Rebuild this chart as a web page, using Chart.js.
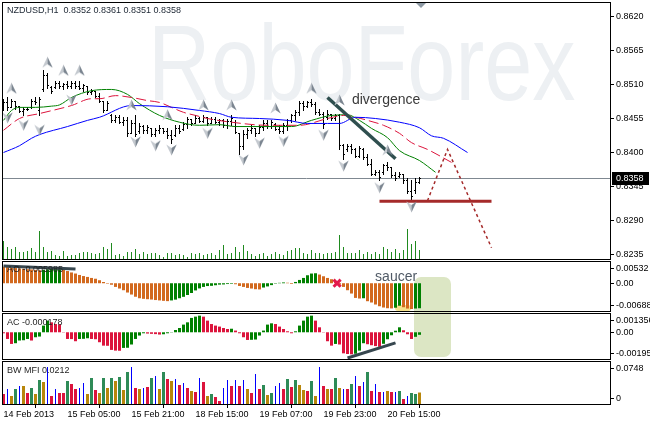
<!DOCTYPE html>
<html>
<head>
<meta charset="utf-8">
<title>NZDUSD H1</title>
<script src="https://cdn.jsdelivr.net/npm/chart.js@4.4.1/dist/chart.umd.min.js"></script>
<style>
  html, body { margin: 0; padding: 0; background: #fff; }
  #wrap { position: relative; width: 650px; height: 422px; overflow: hidden; background: #fff; }
  #wrap canvas { position: absolute; left: 0; }
  .shade { position: absolute; }
</style>
</head>
<body>
<div id="wrap">
  <div class="shade" style="left:414px; top:277px; width:37px; height:80px; border-radius:7px; background:#dce6c4;"></div>
  <div class="shade" style="left:395px; top:305px; width:16px; height:6px; border-radius:3px; background:#f5e28c;"></div>
  <canvas id="mainChart" width="650" height="260" style="top:0px"></canvas>
  <canvas id="aoChart" width="650" height="52" style="top:260px"></canvas>
  <canvas id="acChart" width="650" height="48" style="top:312px"></canvas>
  <canvas id="mfiChart" width="650" height="62" style="top:360px"></canvas>
</div>
<script>
// ---- price bars (H1) ----
const symbolTitle = "NZDUSD,H1  0.8352 0.8361 0.8351 0.8358";
const barOpen = [
  0.8470, 0.8482, 0.8474, 0.8484, 0.8475, 0.8467,
  0.8470, 0.8474, 0.8484, 0.8468, 0.8502, 0.8525, 0.8506,
  0.8506, 0.8512, 0.8507, 0.8511, 0.8508, 0.8513, 0.8507, 0.8505, 0.8507, 0.8498, 0.8500, 0.8491,
  0.8484, 0.8468, 0.8461, 0.8452, 0.8457, 0.8450, 0.8453, 0.8432, 0.8447, 0.8434, 0.8443,
  0.8436, 0.8439, 0.8430, 0.8436, 0.8440, 0.8434, 0.8428, 0.8429, 0.8440, 0.8438, 0.8446, 0.8454,
  0.8447, 0.8456, 0.8451, 0.8457, 0.8448,
  0.8454, 0.8450, 0.8453, 0.8445, 0.8451, 0.8450, 0.8431, 0.8410, 0.8430, 0.8436, 0.8440, 0.8432,
  0.8441, 0.8448, 0.8443, 0.8446, 0.8438, 0.8435, 0.8444, 0.8452, 0.8460, 0.8465, 0.8480, 0.8475,
  0.8481, 0.8478, 0.8466, 0.8462, 0.8457, 0.8463, 0.8456, 0.8460, 0.8412, 0.8405, 0.8411, 0.8405,
  0.8395, 0.8405, 0.8393, 0.8382, 0.8366, 0.8369, 0.8368, 0.8379, 0.8376, 0.8363, 0.8362, 0.8365,
  0.8355, 0.8338, 0.8340, 0.8352
];
const barHigh = [
  0.8487, 0.8489, 0.8487, 0.8484, 0.8476, 0.8473,
  0.8473, 0.8487, 0.8489, 0.8489, 0.8533, 0.8528, 0.8508,
  0.8516, 0.8516, 0.8513, 0.8516, 0.8516, 0.8516, 0.8516, 0.8511, 0.8508, 0.8503, 0.8500, 0.8497,
  0.8484, 0.8484, 0.8463, 0.8460, 0.8460, 0.8457, 0.8457, 0.8452, 0.8460, 0.8447, 0.8444,
  0.8444, 0.8440, 0.8439, 0.8444, 0.8440, 0.8439, 0.8436, 0.8444, 0.8444, 0.8449, 0.8457, 0.8455,
  0.8460, 0.8457, 0.8460, 0.8457, 0.8457,
  0.8457, 0.8455, 0.8455, 0.8455, 0.8460, 0.8452, 0.8431, 0.8436, 0.8440, 0.8444, 0.8440, 0.8444,
  0.8452, 0.8452, 0.8452, 0.8447, 0.8444, 0.8447, 0.8455, 0.8463, 0.8468, 0.8484, 0.8484, 0.8484,
  0.8487, 0.8481, 0.8471, 0.8465, 0.8468, 0.8463, 0.8463, 0.8463, 0.8414, 0.8414, 0.8414, 0.8408,
  0.8411, 0.8408, 0.8398, 0.8390, 0.8371, 0.8371, 0.8382, 0.8384, 0.8376, 0.8368, 0.8368, 0.8366,
  0.8358, 0.8355, 0.8358, 0.8361
];
const barLow = [
  0.8468, 0.8468, 0.8473, 0.8471, 0.8465, 0.8460,
  0.8468, 0.8472, 0.8479, 0.8460, 0.8500, 0.8505, 0.8497,
  0.8505, 0.8505, 0.8503, 0.8505, 0.8505, 0.8505, 0.8503, 0.8500, 0.8495, 0.8495, 0.8489, 0.8481,
  0.8465, 0.8468, 0.8449, 0.8449, 0.8447, 0.8444, 0.8427, 0.8432, 0.8427, 0.8432, 0.8432,
  0.8431, 0.8427, 0.8427, 0.8432, 0.8432, 0.8424, 0.8416, 0.8427, 0.8432, 0.8436, 0.8440, 0.8444,
  0.8447, 0.8449, 0.8449, 0.8444, 0.8447,
  0.8447, 0.8444, 0.8442, 0.8440, 0.8444, 0.8431, 0.8398, 0.8406, 0.8423, 0.8431, 0.8427, 0.8431,
  0.8436, 0.8440, 0.8439, 0.8436, 0.8432, 0.8432, 0.8436, 0.8449, 0.8452, 0.8460, 0.8468, 0.8473,
  0.8476, 0.8463, 0.8460, 0.8440, 0.8455, 0.8452, 0.8452, 0.8406, 0.8390, 0.8403, 0.8400, 0.8392,
  0.8392, 0.8390, 0.8379, 0.8363, 0.8363, 0.8355, 0.8366, 0.8371, 0.8360, 0.8355, 0.8360, 0.8351,
  0.8334, 0.8322, 0.8335, 0.8351
];
const barClose = [
  0.8482, 0.8474, 0.8484, 0.8475, 0.8467, 0.8470,
  0.8471, 0.8484, 0.8481, 0.8487, 0.8525, 0.8510, 0.8500,
  0.8512, 0.8507, 0.8511, 0.8508, 0.8513, 0.8507, 0.8505, 0.8509, 0.8498, 0.8500, 0.8491, 0.8484,
  0.8468, 0.8480, 0.8452, 0.8457, 0.8450, 0.8453, 0.8432, 0.8447, 0.8430, 0.8443, 0.8436,
  0.8441, 0.8430, 0.8436, 0.8440, 0.8434, 0.8428, 0.8422, 0.8440, 0.8435, 0.8446, 0.8454, 0.8447,
  0.8456, 0.8451, 0.8457, 0.8448, 0.8454,
  0.8450, 0.8453, 0.8445, 0.8451, 0.8456, 0.8433, 0.8410, 0.8430, 0.8436, 0.8440, 0.8432, 0.8441,
  0.8448, 0.8443, 0.8449, 0.8438, 0.8435, 0.8444, 0.8452, 0.8460, 0.8465, 0.8480, 0.8475, 0.8481,
  0.8478, 0.8466, 0.8462, 0.8446, 0.8463, 0.8456, 0.8460, 0.8412, 0.8398, 0.8411, 0.8405, 0.8395,
  0.8407, 0.8393, 0.8382, 0.8366, 0.8369, 0.8360, 0.8379, 0.8376, 0.8363, 0.8358, 0.8365, 0.8355,
  0.8338, 0.8330, 0.8352, 0.8358
];
const volumes = [
  1900, 1300, 1100, 1300, 800, 800, 900, 1200, 800, 2900, 1300, 800, 900, 500, 400, 900, 400, 500,
  500, 700, 800, 800, 700, 600, 700, 1300, 1100, 1700, 500, 600, 400, 800, 800, 1100, 600, 800,
  600, 700, 700, 500, 300, 700, 700, 500, 600, 500, 300, 700, 600, 700, 500, 600, 700, 500, 1000,
  1500, 600, 700, 1300, 800, 1500, 900, 600, 400, 600, 700, 400, 600, 800, 600, 500, 900, 1000,
  1200, 1200, 700, 600, 1000, 700, 700, 600, 700, 700, 800, 2500, 1300, 700, 700, 700, 1000, 600,
  800, 600, 800, 600, 1300, 1100, 800, 1100, 700, 1000, 3100, 1600, 1900, 1000
];

// ---- Alligator lines [bar, price] ----
const jawLine = [[0,0.8400],[4,0.8411],[7,0.8423],[9,0.8429],[16,0.8442],[21,0.8452],[24,0.8457],
  [32,0.8476],[41,0.8474],[49,0.8468],[54,0.8463],[57,0.8457],[64,0.8455],[71,0.8452],[76,0.8447],
  [81,0.8447],[84,0.8447],[88,0.8457],[93,0.8455],[99,0.8449],[104,0.8440],[107,0.8427],[110,0.8423],[116,0.8400]];
const teethLine = [[0,0.8436],[4,0.8455],[9,0.8463],[17,0.8476],[22,0.8487],[24,0.8487],[28,0.8492],
  [32,0.8489],[36,0.8484],[39,0.8481],[42,0.8473],[45,0.8465],[48,0.8460],[51,0.8455],[57,0.8449],
  [66,0.8444],[74,0.8444],[81,0.8455],[85,0.8460],[88,0.8457],[91,0.8452],[95,0.8444],[99,0.8431],
  [102,0.8416],[106,0.8405],[112,0.8384]];
const lipsLine = [[0,0.8452],[2,0.8468],[4,0.8473],[8,0.8473],[12,0.8475],[14,0.8477],[17,0.8489],
  [22,0.8500],[27,0.8502],[31,0.8494],[34,0.8479],[39,0.8460],[44,0.8449],[49,0.8444],[54,0.8445],
  [58,0.8442],[64,0.8442],[72,0.8442],[77,0.8452],[82,0.8460],[86,0.8461],[89,0.8452],[92,0.8439],
  [96,0.8424],[99,0.8403],[104,0.8387],[108,0.8368]];

// ---- fractals [bar, price] ----
const fractalsUp = [[2,0.8504],[11,0.8546],[15,0.8533],[19,0.8533],[32,0.8477],[41,0.8461],[50,0.8477],
  [57,0.8477],[68,0.8472],[77,0.8504],[84,0.8485],[96,0.8404]];
const fractalsDown = [[1,0.8456],[5,0.8444],[9,0.8436],[17,0.8485],[33,0.8417],[38,0.8411],[42,0.8404],
  [51,0.8431],[60,0.8388],[64,0.8415],[70,0.8418],[80,0.8428],[85,0.8378],[94,0.8343],[102,0.8312]];

// ---- drawn objects [bar, price] ----
const divergenceLine = [[81,0.8489],[98,0.8390]];
const supportLine = [[94,0.8321],[122,0.8321]];
const forecastLine = [[106,0.8322],[111,0.8405],[122,0.8246]];
const divergenceNote = { text: "divergence", at: [87.1, 0.8485] };

const priceTicks = [0.8620, 0.8565, 0.8510, 0.8455, 0.8400, 0.8345, 0.8290, 0.8235];
const bidPrice = 0.8358;

// ---- Awesome Oscillator ----
const aoValues = [
  0.00394, 0.00387, 0.00373, 0.00363, 0.00354, 0.00347, 0.00337, 0.00330, 0.00320, 0.00311,
  0.00320, 0.00332, 0.00342, 0.00349, 0.00354, 0.00323, 0.00292, 0.00258, 0.00232, 0.00198,
  0.00172, 0.00151, 0.00127, 0.00108, 0.00072, 0.00029, -0.00012, -0.00036, -0.00088, -0.00127,
  -0.00167, -0.00222, -0.00270, -0.00323, -0.00359, -0.00373, -0.00382, -0.00390, -0.00402, -0.00411,
  -0.00421, -0.00428, -0.00411, -0.00392, -0.00359, -0.00325, -0.00282, -0.00234, -0.00172, -0.00124,
  -0.00088, -0.00067, -0.00062, -0.00048, -0.00033, -0.00029, -0.00019, -0.00014, -0.00024, -0.00065,
  -0.00088, -0.00112, -0.00127, -0.00143, -0.00148, -0.00103, -0.00076, -0.00045, -0.00010, 0.00010,
  0.00019, 0.00012, -0.00017, 0.00031, 0.00079, 0.00127, 0.00191, 0.00232, 0.00239, 0.00208,
  0.00167, 0.00127, 0.00096, 0.00048, -0.00031, -0.00088, -0.00167, -0.00246, -0.00351, -0.00366,
  -0.00359, -0.00430, -0.00461, -0.00509, -0.00550, -0.00581, -0.00598, -0.00602, -0.00586, -0.00538,
  -0.00574, -0.00605, -0.00617, -0.00605, -0.00598
];
const aoTrend = [[0,0.00411],[18,0.00339]];
const aoCross = [[83.4,0.00002]];
const aoTicks = [0.00532, 0, -0.00688];
const aoTickLabels = ["0.00532", "0.00", "-0.00688"];
const saucerNote = { text: "saucer", at: [92.9, 0.00148] };

// ---- Accelerator Oscillator ----
const acValues = [
  -0.00007, -0.00047, -0.00082, -0.00077, -0.00058, -0.00056, -0.00047, -0.00058, -0.00035, -0.00030,
  0.00047, 0.00082, 0.00070, 0.00058, 0.00056, -0.00002, -0.00047, -0.00048, -0.00063, -0.00047,
  -0.00046, -0.00042, -0.00047, -0.00049, -0.00070, -0.00094, -0.00095, -0.00124, -0.00129, -0.00130,
  -0.00110, -0.00109, -0.00086, -0.00047, -0.00023, -0.00007, -0.00009, -0.00011, -0.00013, -0.00016,
  -0.00014, -0.00007, 0.00002, 0.00016, 0.00030, 0.00054, 0.00070, 0.00101, 0.00110, 0.00117,
  0.00110, 0.00082, 0.00058, 0.00047, 0.00040, 0.00030, 0.00023, 0.00025, 0.00012, -0.00007,
  -0.00035, -0.00054, -0.00053, -0.00051, -0.00023, 0.00012, 0.00054, 0.00063, 0.00058, 0.00040,
  0.00023, 0.00007, -0.00007, 0.00007, 0.00047, 0.00082, 0.00110, 0.00117, 0.00082, 0.00035,
  -0.00002, -0.00063, -0.00094, -0.00082, -0.00086, -0.00148, -0.00153, -0.00155, -0.00151, -0.00129,
  -0.00077, -0.00084, -0.00091, -0.00097, -0.00102, -0.00081, -0.00049, -0.00021, 0.00011, 0.00035,
  0.00014, -0.00014, -0.00047, -0.00032, -0.000178
];
const acTrend = [[86,-0.00181],[98,-0.00075]];
const acTicks = [0.001356, 0, -0.00195];
const acTickLabels = ["0.001356", "0.00", "-0.00195"];

// ---- Market Facilitation Index ----
const mfiValues = [
  0.0187, 0.0272, 0.0153, 0.0272, 0.0323, 0.0323, 0.0204, 0.0289, 0.0187, 0.0425,
  0.0391, 0.0646, 0.0153, 0.0272, 0.0204, 0.0204, 0.0408, 0.0357, 0.0272, 0.0289,
  0.0374, 0.0187, 0.0459, 0.0255, 0.0204, 0.0459, 0.0289, 0.0459, 0.0408, 0.0476,
  0.0255, 0.0561, 0.0646, 0.0289, 0.0272, 0.0289, 0.0306, 0.0459, 0.0493, 0.0272,
  0.0561, 0.0442, 0.0408, 0.0442, 0.0340, 0.0374, 0.0289, 0.0238, 0.0221, 0.0459,
  0.0391, 0.0153, 0.0187, 0.0136, 0.0068, 0.0289, 0.0425, 0.0323, 0.0425, 0.0323,
  0.0425, 0.0272, 0.0204, 0.0527, 0.0272, 0.0340, 0.0170, 0.0204, 0.0323, 0.0374,
  0.0272, 0.0442, 0.0306, 0.0425, 0.0340, 0.0255, 0.0238, 0.0408, 0.0153, 0.0646,
  0.0323, 0.0272, 0.0272, 0.0459, 0.0289, 0.0272, 0.0272, 0.0357, 0.0493, 0.0323,
  0.0391, 0.0561, 0.0238, 0.0357, 0.0221, 0.0221, 0.0238, 0.0221, 0.0221, 0.0238,
  0.0102, 0.0153, 0.0204, 0.0187, 0.0212
];
// G = up/up, Y = down/down, R = down/up, B = up/down
const mfiColors = "RBYGBYRGYG" + "YBRBRRGRRB" + "BYGRYGYGYG" + "YGBRYBRGBY" + "GRYBRBRYRB" +
                  "RYGRRBBRBR" + "BYRBRGYGBB" + "RGRGYYRGYB" + "RYRGYBRGBR" + "BGRBRBYRBG" + "RBGGY";
const mfiTicks = [0.0748, 0];
const mfiTickLabels = ["0.0748", "0"];

// ---- time axis ----
const timeTicks = [0, 16, 32, 48, 64, 80, 96];
const timeLabels = ["14 Feb 2013", "15 Feb 05:00", "15 Feb 21:00", "18 Feb 15:00",
                    "19 Feb 07:00", "19 Feb 23:00", "20 Feb 15:00"];

// ------------------------------------------------------------------
const FONT_FAMILY = '"Liberation Sans", Arial, sans-serif';
const FONT9 = '9px ' + FONT_FAMILY;
const X_MIN = -0.375, X_MAX = 151.875;

const toPts = arr => arr.map(p => ({ x: p[0], y: p[1] }));
const seriesPts = arr => arr.map((v, i) => ({ x: i, y: v }));

function arrowImage(up) {
    const c = document.createElement('canvas');
    c.width = 11; c.height = 12;
    const g = c.getContext('2d');
    if (!up) { g.translate(0, 12); g.scale(1, -1); }
    g.fillStyle = '#c4c9cf';
    g.beginPath(); g.moveTo(5.5, 0.5); g.lineTo(5.5, 8); g.lineTo(0.3, 11.5); g.closePath(); g.fill();
    g.fillStyle = '#7b8590';
    g.beginPath(); g.moveTo(5.5, 0.5); g.lineTo(10.7, 11.5); g.lineTo(5.5, 8); g.closePath(); g.fill();
    return c;
}

function frame(ctx, a) {
    ctx.strokeStyle = '#000';
    ctx.lineWidth = 1;
    ctx.strokeRect(a.left + 0.5, a.top + 0.5, a.right - a.left - 1, a.bottom - a.top - 1);
}

function axisLabels(ctx, a, y, values, texts, clampTop, clampBottom) {
    ctx.font = FONT9;
    ctx.fillStyle = '#000';
    ctx.strokeStyle = '#000';
    ctx.lineWidth = 1;
    ctx.textAlign = 'left';
    ctx.textBaseline = 'middle';
    values.forEach((v, k) => {
        let py = y.getPixelForValue(v);
        py = Math.min(Math.max(py, a.top + clampTop), a.bottom - clampBottom);
        const ry = Math.floor(py) + 0.5;
        ctx.beginPath();
        ctx.moveTo(a.right, ry);
        ctx.lineTo(a.right + 3, ry);
        ctx.stroke();
        ctx.fillText(texts[k], a.right + 5, ry + 0.5);
    });
}

function baseOptions(yMin, yMax, padTop, padBottom) {
    return {
        responsive: false,
        animation: false,
        events: [],
        layout: { autoPadding: false, padding: { left: 2, right: 39, top: padTop, bottom: padBottom } },
        plugins: { legend: { display: false }, tooltip: { enabled: false } },
        scales: {
            x: { type: 'linear', min: X_MIN, max: X_MAX, display: false, offset: false },
            y: { type: 'linear', min: yMin, max: yMax, display: false }
        }
    };
}

// ---- main price window ----
const mainPanel = {
    id: 'mainPanel',
    beforeDatasetsDraw(chart) {
        const { ctx, chartArea: a, scales: { x, y } } = chart;
        ctx.save();
        // broker watermark, narrow logo lettering
        ctx.fillStyle = '#edf0f3';
        ctx.font = '108px ' + FONT_FAMILY;
        ctx.textBaseline = 'alphabetic';
        ctx.textAlign = 'left';
        ctx.translate(148, 100);
        ctx.scale(0.8, 1);
        ctx.fillText('RoboForex', 0, 0);
        ctx.setTransform(1, 0, 0, 1, 0, 0);

        const by = Math.floor(y.getPixelForValue(bidPrice)) + 0.5;
        ctx.strokeStyle = '#7f8891';
        ctx.lineWidth = 1;
        ctx.beginPath();
        ctx.moveTo(a.left, by);
        ctx.lineTo(a.right, by);
        ctx.stroke();

        // OHLC bars
        ctx.strokeStyle = '#000';
        ctx.beginPath();
        for (let i = 0; i < barHigh.length; i++) {
            const px = Math.floor(x.getPixelForValue(i)) + 0.5;
            const hy = Math.round(y.getPixelForValue(barHigh[i]));
            const ly = Math.round(y.getPixelForValue(barLow[i]));
            const oy = Math.round(y.getPixelForValue(barOpen[i])) + 0.5;
            const cy = Math.round(y.getPixelForValue(barClose[i])) + 0.5;
            ctx.moveTo(px, hy);
            ctx.lineTo(px, ly + 1);
            ctx.moveTo(px - 1.5, oy);
            ctx.lineTo(px - 0.5, oy);
            ctx.moveTo(px + 0.5, cy);
            ctx.lineTo(px + 1.5, cy);
        }
        ctx.stroke();
        ctx.restore();
    },
    afterDraw(chart) {
        const { ctx, chartArea: a, scales: { x, y } } = chart;
        ctx.save();
        ctx.font = '14px ' + FONT_FAMILY;
        ctx.fillStyle = '#3a3a3a';
        ctx.textAlign = 'left';
        ctx.textBaseline = 'middle';
        ctx.fillText(divergenceNote.text, x.getPixelForValue(divergenceNote.at[0]), y.getPixelForValue(divergenceNote.at[1]));

        frame(ctx, a);

        ctx.font = FONT9;
        ctx.fillStyle = '#1c2633';
        ctx.fillText(symbolTitle, 7, 11);

        axisLabels(ctx, a, y, priceTicks, priceTicks.map(v => v.toFixed(4)), 0, 0);

        const by = Math.floor(y.getPixelForValue(bidPrice));
        ctx.fillStyle = '#000';
        ctx.fillRect(a.right + 1, by - 6, 37, 13);
        ctx.fillStyle = '#fff';
        ctx.fillText(bidPrice.toFixed(4), a.right + 5, by + 1);

        // chart shift marker
        const sx = Math.round(x.getPixelForValue(barClose.length - 1)) + 1;
        ctx.fillStyle = '#8d99a4';
        ctx.beginPath();
        ctx.moveTo(sx - 5, a.top + 1);
        ctx.lineTo(sx + 5, a.top + 1);
        ctx.lineTo(sx, a.top + 6);
        ctx.closePath();
        ctx.fill();
        ctx.restore();
    }
};

const mainOptions = baseOptions(0.822612, 0.864346, 2, 0);
mainOptions.scales.vol = { type: 'linear', min: 0, max: 25800, display: false };

new Chart(document.getElementById('mainChart'), {
    type: 'bar',
    data: {
        datasets: [
            { type: 'bar', yAxisID: 'vol', order: 10, data: seriesPts(volumes),
              backgroundColor: '#1f8a1f', barThickness: 1, grouped: false, inflateAmount: 0 },
            { type: 'line', order: 6, data: toPts(jawLine), borderColor: '#0000ff', borderWidth: 1,
              pointRadius: 0, tension: 0.4, cubicInterpolationMode: 'monotone' },
            { type: 'line', order: 6, data: toPts(teethLine), borderColor: '#dc143c', borderWidth: 1,
              borderDash: [10, 4], pointRadius: 0, cubicInterpolationMode: 'monotone' },
            { type: 'line', order: 6, data: toPts(lipsLine), borderColor: '#008000', borderWidth: 1,
              pointRadius: 0, cubicInterpolationMode: 'monotone' },
            { type: 'line', order: 3, data: toPts(divergenceLine), borderColor: '#2f4f4f', borderWidth: 3.5,
              pointRadius: 0 },
            { type: 'line', order: 3, data: toPts(supportLine), borderColor: '#a52a2a', borderWidth: 3,
              pointRadius: 0 },
            { type: 'line', order: 3, data: toPts(forecastLine), borderColor: '#a52a2a', borderWidth: 1.5,
              borderDash: [3, 3], pointRadius: 0 },
            { type: 'line', order: 1, data: toPts(fractalsUp), showLine: false,
              pointStyle: arrowImage(true), pointRadius: 6 },
            { type: 'line', order: 1, data: toPts(fractalsDown), showLine: false,
              pointStyle: arrowImage(false), pointRadius: 6 }
        ]
    },
    options: mainOptions,
    plugins: [mainPanel]
});

// ---- indicator windows ----
function panelPlugin(cfg) {
    return {
        id: 'panel_' + cfg.key,
        afterDatasetsDraw(chart) {
            const { ctx, chartArea: a } = chart;
            ctx.save();
            ctx.font = FONT9;
            ctx.fillStyle = '#1f1f1f';
            ctx.textAlign = 'left';
            ctx.textBaseline = 'middle';
            ctx.fillText(cfg.title, 7, a.top + cfg.titleDy);
            ctx.restore();
        },
        afterDraw(chart) {
            const { ctx, chartArea: a, scales: { x, y } } = chart;
            ctx.save();
            if (cfg.note) {
                ctx.font = '14px ' + FONT_FAMILY;
                ctx.fillStyle = '#505a66';
                ctx.textAlign = 'left';
                ctx.textBaseline = 'middle';
                ctx.fillText(cfg.note.text, x.getPixelForValue(cfg.note.at[0]), y.getPixelForValue(cfg.note.at[1]));
            }
            frame(ctx, a);
            axisLabels(ctx, a, y, cfg.ticks, cfg.tickTexts, 7, 7);
            ctx.restore();
        }
    };
}

const aoColors = aoValues.map((v, i) => (i > 0 && v > aoValues[i - 1]) ? '#008000' : '#d2691e');
new Chart(document.getElementById('aoChart'), {
    type: 'bar',
    data: {
        datasets: [
            { type: 'bar', order: 5, data: seriesPts(aoValues), backgroundColor: aoColors,
              barThickness: 3, grouped: false, inflateAmount: 0 },
            { type: 'line', order: 2, data: toPts(aoTrend), borderColor: '#37474f', borderWidth: 3, pointRadius: 0 },
            { type: 'line', order: 1, data: toPts(aoCross), showLine: false, pointStyle: 'crossRot',
              pointRadius: 5, borderColor: '#e3194d', borderWidth: 3 }
        ]
    },
    options: baseOptions(-0.00688, 0.00532, 1, 0),
    plugins: [panelPlugin({ key: 'ao', title: 'AO -0.005985', titleDy: 9, ticks: aoTicks,
                            tickTexts: aoTickLabels, note: saucerNote })]
});

const acColors = acValues.map((v, i) => (i > 0 && v > acValues[i - 1]) ? '#008000' : '#dc143c');
new Chart(document.getElementById('acChart'), {
    type: 'bar',
    data: {
        datasets: [
            { type: 'bar', order: 5, data: seriesPts(acValues), backgroundColor: acColors,
              barThickness: 3, grouped: false, inflateAmount: 0 },
            { type: 'line', order: 2, data: toPts(acTrend), borderColor: '#37474f', borderWidth: 3, pointRadius: 0 }
        ]
    },
    options: baseOptions(-0.00195, 0.001356, 1, 0),
    plugins: [panelPlugin({ key: 'ac', title: 'AC -0.000178', titleDy: 10, ticks: acTicks,
                            tickTexts: acTickLabels })]
});

const MFI_COLORS = { G: '#2e8b57', Y: '#b8860b', R: '#dc143c', B: '#0000ff' };
const mfiPts = mfiValues.map((v, i) => ({ x: i, y: v, c: mfiColors[i] }));
const mfiOptions = baseOptions(0, 0.0748, 1, 0);
mfiOptions.scales.x = {
    type: 'linear', min: X_MIN, max: X_MAX, offset: false, position: 'bottom', display: true,
    afterBuildTicks: s => { s.ticks = timeTicks.map(v => ({ value: v })); },
    afterFit: s => { s.height = 17; },
    ticks: { autoSkip: false, maxRotation: 0, minRotation: 0, align: 'start', padding: 1, color: '#000',
             font: { family: FONT_FAMILY, size: 9 }, callback: (v, i) => timeLabels[i] },
    grid: { drawOnChartArea: false, drawTicks: true, tickLength: 3, color: '#000', lineWidth: 1 },
    border: { display: false }
};
new Chart(document.getElementById('mfiChart'), {
    type: 'bar',
    data: {
        datasets: [
            { type: 'bar', order: 2, data: mfiPts.filter(p => p.c !== 'B'),
              backgroundColor: c => (c.raw ? MFI_COLORS[c.raw.c] : '#000'),
              barThickness: 3, grouped: false, inflateAmount: 0 },
            { type: 'bar', order: 1, data: mfiPts.filter(p => p.c === 'B'), backgroundColor: MFI_COLORS.B,
              barThickness: 1, grouped: false, inflateAmount: 0 }
        ]
    },
    options: mfiOptions,
    plugins: [panelPlugin({ key: 'mfi', title: 'BW MFI 0.0212', titleDy: 10, ticks: mfiTicks,
                            tickTexts: mfiTickLabels })]
});
</script>
</body>
</html>
